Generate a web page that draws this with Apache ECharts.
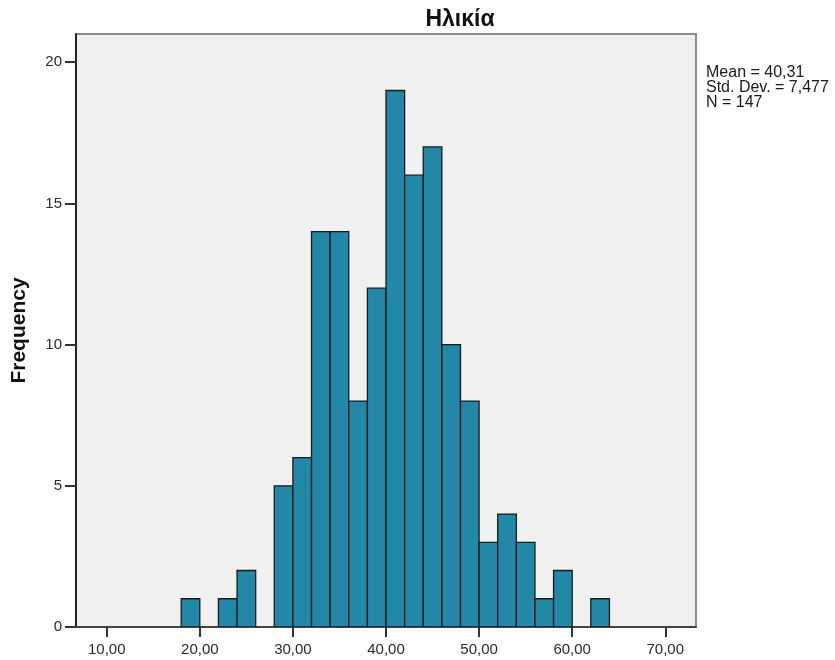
<!DOCTYPE html>
<html>
<head>
<meta charset="utf-8">
<script src="https://cdn.jsdelivr.net/npm/echarts@6/dist/echarts.min.js"></script>
<style>html,body{margin:0;padding:0;background:#fff;}#c{width:835px;height:660px;}</style>
</head>
<body>
<div id="c"></div>
<script>
var binStarts = [18,20,22,24,26,28,30,32,34,36,38,40,42,44,46,48,50,52,54,56,58,60,62];
var counts    = [1,0,1,2,0,5,6,14,14,8,12,19,16,17,10,8,3,4,3,1,2,0,1];
var binWidth = 2;
var xTicks = [10,20,30,40,50,60,70];
var yTicks = [0,5,10,15,20];
var titleText = 'Ηλικία';
var statsLines = ['Mean = 40,31','Std. Dev. = 7,477','N = 147'];

var data = binStarts.map(function(s,i){return [s, s+binWidth, counts[i]];});
var chart = echarts.init(document.getElementById('c'), null, {renderer:'canvas'});
var font = 'Liberation Sans, Arial, sans-serif';
chart.setOption({
  backgroundColor:'#ffffff',
  animation:false,
  title:{text:titleText, left:455, top:3, textAlign:'center',
    textStyle:{fontFamily:font, fontSize:23, fontWeight:'bold', color:'#111'}},
  graphic:[{type:'text', left:706, top:65,
    style:{text:statsLines.join('\n'), font:'16px '+font, fill:'#1a1a1a', lineHeight:15}}],
  grid:{left:76, top:34, width:620, height:593, show:true, backgroundColor:'#f0f0f0', borderColor:'#8a8a8a', borderWidth:2},
  xAxis:{type:'value', min:6.7, max:73.3,
    axisLine:{show:true, onZero:false, lineStyle:{color:'#444', width:2}},
    axisTick:{show:true, customValues:xTicks, length:10, lineStyle:{color:'#333', width:2}},
    axisLabel:{customValues:xTicks, margin:15, fontFamily:font, fontSize:15, color:'#2a2a2a',
      formatter:function(v){return v.toFixed(2).replace('.',',');}},
    splitLine:{show:false}},
  yAxis:{type:'value', min:0, max:21, name:'Frequency', nameLocation:'middle', nameGap:46,
    nameTextStyle:{fontFamily:font, fontSize:21, fontWeight:'bold', color:'#111'},
    axisLine:{show:true, lineStyle:{color:'#222', width:2}},
    axisTick:{show:true, customValues:yTicks, length:11, lineStyle:{color:'#333', width:2}},
    axisLabel:{customValues:yTicks, margin:14, fontFamily:font, fontSize:15, color:'#2a2a2a'},
    splitLine:{show:false}},
  series:[{type:'custom', clip:true,
    encode:{x:[0,1], y:2},
    data:data,
    renderItem:function(params, api){
      var p0 = api.coord([api.value(0), 0]);
      var p1 = api.coord([api.value(1), api.value(2)]);
      if (api.value(2) === 0) return null;
      return {type:'rect',
        shape:{x:p0[0], y:p1[1], width:p1[0]-p0[0], height:p0[1]-p1[1]},
        style:{fill:'#2387a8', stroke:'#1a1a1a', lineWidth:1.3}};
    }}]
});
</script>
</body>
</html>
